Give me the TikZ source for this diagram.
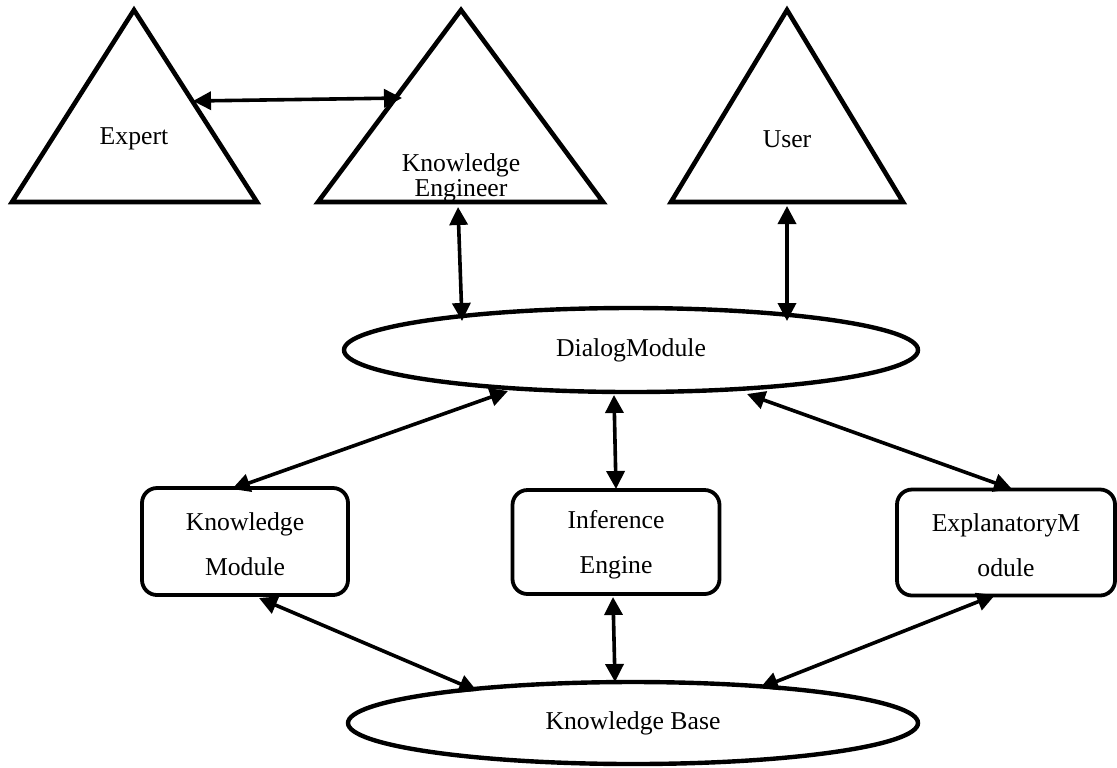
\documentclass[tikz,border=0pt]{standalone}
\usepackage{fontspec}
\setmainfont{Liberation Serif}
\usetikzlibrary{arrows.meta,shapes.geometric}
\begin{document}
\begin{tikzpicture}[x=0.5pt,y=-0.5pt,
  tri/.style={draw=black,line width=2.3pt,line join=miter},
  lbl/.style={font=\fontsize{12.85}{12.5}\selectfont,align=center,inner sep=0pt},
  oval/.style={ellipse,draw=black,line width=2.2pt,inner sep=0pt,font=\fontsize{12.85}{15}\selectfont},
  modbox/.style={draw=black,rounded corners=7.5pt,line width=1.9pt,inner sep=0pt,align=center,font=\fontsize{12.85}{22.5}\selectfont},
  link/.style={line width=1.8pt,{Triangle[length=9pt,width=9pt]}-{Triangle[length=9pt,width=9pt]}}]
\useasboundingbox (0,0) rectangle (1117,767);
% triangles
\draw[tri] (134,10) -- (257,202) -- (12,202) -- cycle;
\draw[tri] (461,10) -- (603,202) -- (318,202) -- cycle;
\draw[tri] (787,10) -- (903,202) -- (671,202) -- cycle;
\node[lbl] (expert) at (134,139) {Expert};
\node[lbl] (engineer) at (461,178) {Knowledge\\Engineer};
\node[lbl] (user) at (787,139) {User};
% ellipses
\node[oval,minimum width=287pt,minimum height=42pt] (dialog) at (631,350) {DialogModule};
\node[oval,minimum width=285pt,minimum height=41pt] (kb) at (633,723) {Knowledge Base};
% boxes
\node[modbox,minimum width=103pt,minimum height=53.5pt] (km) at (245,541.5) {\rule{0pt}{12pt}Knowledge\\Module};
\node[modbox,minimum width=103.5pt,minimum height=52pt] (ie) at (616,542) {\rule{0pt}{12pt}Inference\\Engine};
\node[modbox,minimum width=109pt,minimum height=53pt] (em) at (1006,542.5) {\rule{0pt}{12pt}ExplanatoryM\\odule};
% connector end points
\coordinate (ex1) at (193,101);
\coordinate (en1) at (402,98);
\coordinate (en2) at (458,207);
\coordinate (dm1) at (462,321);
\coordinate (us1) at (787,206);
\coordinate (dm2) at (787,321);
\coordinate (dm3) at (508,391);
\coordinate (km1) at (232,489);
\coordinate (dm4) at (614,395);
\coordinate (ie1) at (616,489);
\coordinate (dm5) at (747,394);
\coordinate (em1) at (1012,489);
\coordinate (km2) at (259,598);
\coordinate (kb1) at (477,691);
\coordinate (ie2) at (613,597);
\coordinate (kb2) at (615,682);
\coordinate (em2) at (995,595);
\coordinate (kb3) at (760,688);
% connectors
\draw[link] (ex1) -- (en1);
\draw[link] (en2) -- (dm1);
\draw[link] (us1) -- (dm2);
\draw[link] (dm3) -- (km1);
\draw[link] (dm4) -- (ie1);
\draw[link] (dm5) -- (em1);
\draw[link] (km2) -- (kb1);
\draw[link] (ie2) -- (kb2);
\draw[link] (em2) -- (kb3);
\end{tikzpicture}
\end{document}
